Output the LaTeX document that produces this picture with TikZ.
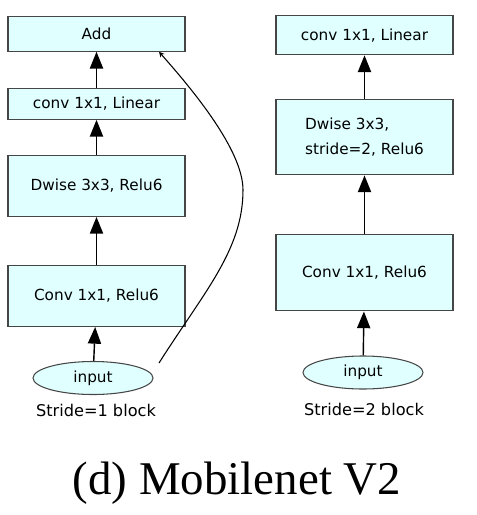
\documentclass[tikz,border=0pt]{standalone}
\usepackage{fontspec}
\setmainfont{DejaVu Sans}
\newfontfamily\capfont{Liberation Serif}
\usepackage{tikz}
\usetikzlibrary{shapes,shapes.geometric,arrows.meta,positioning,calc}
\usepackage{xcolor}
\definecolor{blkfill}{RGB}{224,255,255}
\definecolor{blkline}{RGB}{70,70,70}
\tikzset{
  blk/.style={rectangle, draw=blkline, fill=blkfill, line width=0.6pt,
              minimum width=3.54cm, align=center, font=\fontsize{8.7pt}{10pt}\selectfont},
  arr/.style={-{Triangle[length=9.5pt,width=7.5pt]}, line width=0.8pt, color=black},
}
\begin{document}
\begin{tikzpicture}[
    node distance=0.7cm,
    inp/.style={ellipse, draw=blkline, fill=blkfill, line width=0.6pt, inner sep=0pt,
                minimum width=2.4cm, minimum height=0.66cm, font=\fontsize{8.7pt}{10pt}\selectfont},
    lbl/.style={inner sep=0pt, font=\fontsize{9.2pt}{11pt}\selectfont},
    skiparr/.style={-{Stealth[length=3pt,width=3pt]}, line width=0.6pt}
  ]
    \useasboundingbox (0,0) rectangle (9.54,-10.30);
    \node[inp] (in1) at (1.86,-7.56) {input};
    \node[blk, minimum height=1.22cm, above=0.68cm of in1, xshift=0.07cm] (cv1) {Conv 1x1, Relu6};
    \node[blk, minimum height=1.22cm, above=0.96cm of cv1] (dw1) {Dwise 3x3, Relu6};
    \node[blk, minimum height=0.62cm, above=0.7cm of dw1] (lin1) {conv 1x1, Linear};
    \node[blk, minimum height=0.70cm, above=0.72cm of lin1] (add) {Add};
    \node[lbl, below=0.17cm of in1, xshift=0.06cm] (s1) {Stride=1 block};
    \draw[arr] (in1)--(cv1);
    \draw[arr] (cv1)--(dw1);
    \draw[arr] (dw1)--(lin1);
    \draw[arr] (lin1)--(add);
    \coordinate (sk) at (3.18,-7.26);
    \draw[skiparr] (sk) .. controls (4.08,-5.84) and (4.86,-5.0) .. (4.86,-3.8)
                        .. controls (4.86,-3.0) and (3.84,-1.78) .. (add.south -| sk);

    \node[inp] (in2) at (7.26,-7.45) {input};
    \node[blk, minimum height=1.52cm, above=0.88cm of in2, xshift=0.03cm] (cv2) {Conv 1x1, Relu6};
    \node[blk, minimum height=1.50cm, above=1.18cm of cv2, align=left,
          font=\fontsize{8.7pt}{14.2pt}\selectfont] (dw2) {Dwise 3x3,\\stride=2, Relu6};
    \node[blk, minimum height=0.78cm, above=0.88cm of dw2] (lin2) {conv 1x1, Linear};
    \node[lbl, below=0.27cm of in2, xshift=0.02cm] (s2) {Stride=2 block};
    \draw[arr] (in2)--(cv2);
    \draw[arr] (cv2)--(dw2);
    \draw[arr] (dw2)--(lin2);

    \node[anchor=base, inner sep=0pt, font=\capfont\fontsize{26.7pt}{30pt}\selectfont] (cap) at (4.74,-9.88) {(d) Mobilenet V2};
  \end{tikzpicture}
\end{document}
